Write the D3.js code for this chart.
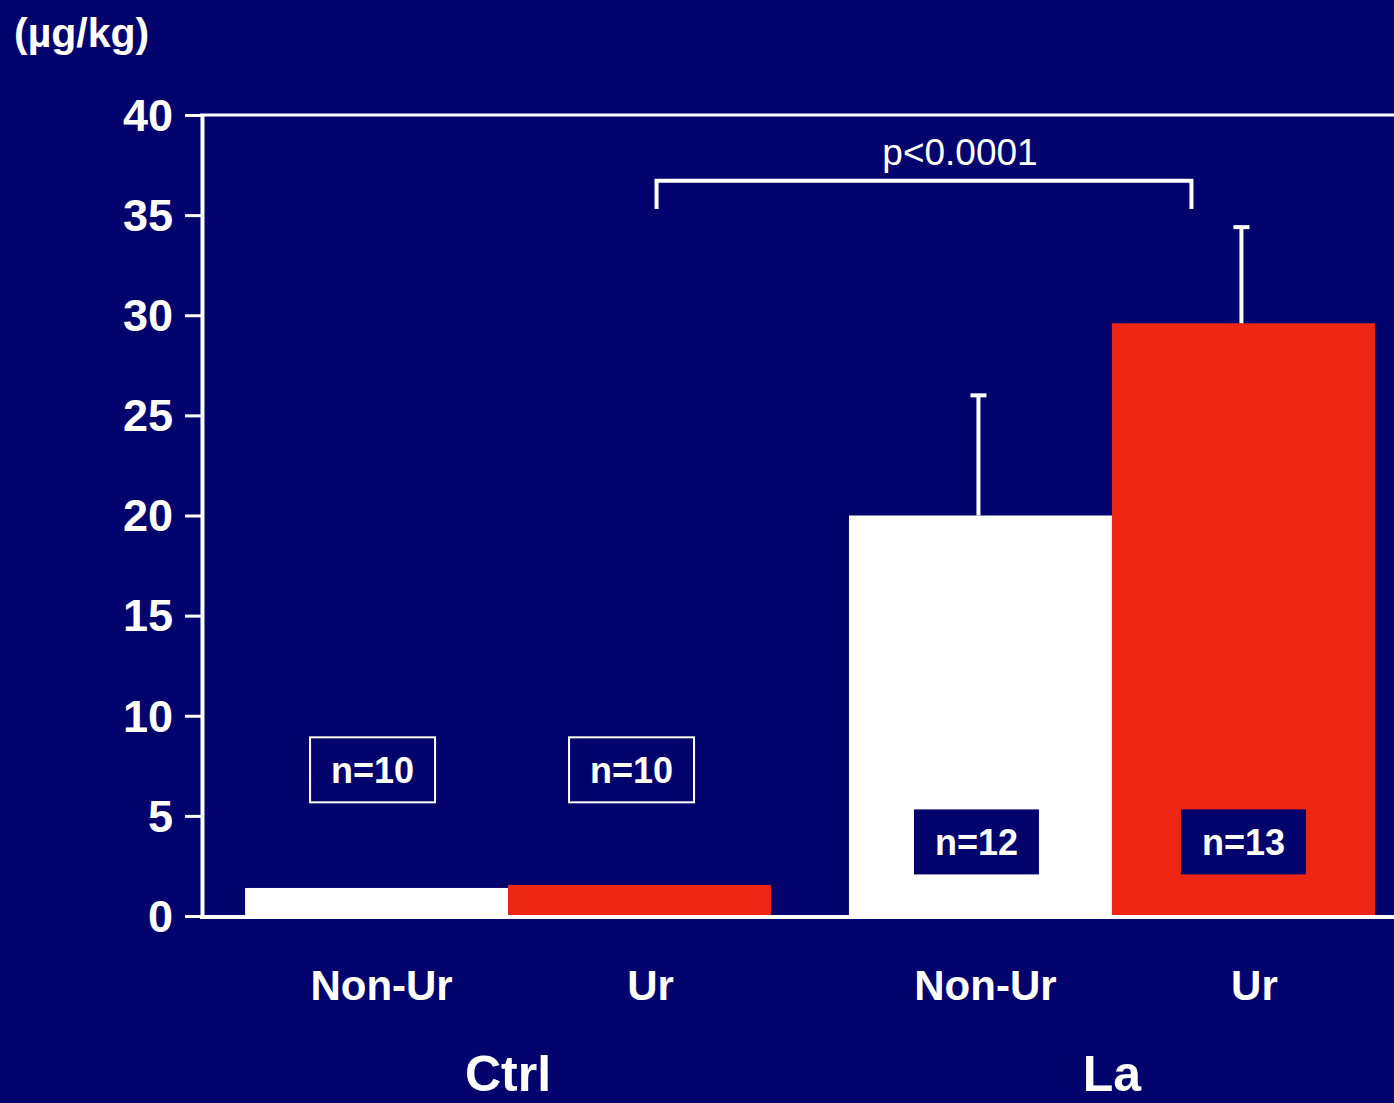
<!DOCTYPE html>
<html>
<head>
<meta charset="utf-8">
<script src="https://cdn.jsdelivr.net/npm/d3@7"></script>
<style>
  html, body { margin: 0; padding: 0; background: #03036e; }
  svg { display: block; }
  text { font-family: "Liberation Sans", Arial, Helvetica, sans-serif; fill: #ffffff; }
</style>
</head>
<body>
<svg id="chart" width="1394" height="1103"></svg>
<script>
// ---- data ----
const groups = ["Ctrl", "La"];
const subgroups = ["Non-Ur", "Ur"];
const meanValues = [1.4, 1.55, 20.0, 29.6];       // Ctrl Non-Ur, Ctrl Ur, La Non-Ur, La Ur
const errorTops = [null, null, 26.0, 34.4];       // mean + SD (only shown for La)
const nLabels = ["n=10", "n=10", "n=12", "n=13"];
const yTicks = [0, 5, 10, 15, 20, 25, 30, 35, 40];
const pLabel = "p<0.0001";
const unitLabel = "(µg/kg)";

const rows = [];
groups.forEach((g, gi) => subgroups.forEach((s, si) => {
  const i = gi * subgroups.length + si;
  rows.push({ i, group: g, sub: s, value: meanValues[i], err: errorTops[i], n: nLabels[i] });
}));

const W = 1394, H = 1103;
const svg = d3.select("#chart");
const navy = "#03036e", red = "#ef2613", white = "#ffffff";

const axisX = 202;
const y = d3.scaleLinear().domain([0, 40]).range([916, 115]);
const x0 = d3.scaleBand().domain(groups).range([axisX, 1418]).paddingInner(0.129).paddingOuter(0.0713);
const x1 = d3.scaleBand().domain(subgroups).range([0, x0.bandwidth()]).padding(0);
const color = d3.scaleOrdinal().domain(subgroups).range([white, red]);
const cx = d => x0(d.group) + x1(d.sub) + x1.bandwidth() / 2;

// bars
svg.append("g").selectAll("rect").data(rows).join("rect")
  .attr("x", d => x0(d.group) + x1(d.sub))
  .attr("y", d => y(d.value))
  .attr("width", x1.bandwidth())
  .attr("height", d => y(0) - y(d.value))
  .attr("fill", d => color(d.sub));

// error bars (upper only)
const eb = svg.append("g").selectAll("g").data(rows.filter(d => d.err != null)).join("g");
eb.append("line")
  .attr("x1", d => cx(d) - 2).attr("x2", d => cx(d) - 2)
  .attr("y1", d => y(d.value)).attr("y2", d => y(d.err))
  .attr("stroke", white).attr("stroke-width", 4);
eb.append("line")
  .attr("x1", d => cx(d) - 10).attr("x2", d => cx(d) + 6)
  .attr("y1", d => y(d.err)).attr("y2", d => y(d.err))
  .attr("stroke", white).attr("stroke-width", 4);

// n labels
const boxW = 125, boxH = 65;
const nudge = [-4, -8, -4, 0];
const nG = svg.append("g").selectAll("g").data(rows).join("g")
  .attr("transform", d => `translate(${cx(d) + nudge[d.i]},${d.group === "Ctrl" ? y(7.3) : y(3.7)})`);
nG.append("rect")
  .attr("x", -boxW / 2).attr("y", -boxH / 2).attr("width", boxW).attr("height", boxH)
  .attr("fill", d => d.group === "Ctrl" ? "none" : navy)
  .attr("stroke", d => d.group === "Ctrl" ? white : "none")
  .attr("stroke-width", 2);
nG.append("text")
  .attr("text-anchor", "middle").attr("dy", "0.36em")
  .attr("font-size", 36).attr("font-weight", "bold")
  .text(d => d.n);

// axes
const yAxis = d3.axisLeft(y).tickValues(yTicks).tickSize(17).tickPadding(12).tickSizeOuter(0);
const ga = svg.append("g").attr("transform", `translate(${axisX},0)`).call(yAxis);
ga.select(".domain").attr("stroke", white).attr("stroke-width", 4);
ga.selectAll(".tick line").attr("stroke", white).attr("stroke-width", 3);
ga.selectAll(".tick text").attr("fill", white).attr("font-size", 45).attr("font-weight", "bold")
  .attr("font-family", "Liberation Sans, Arial, sans-serif").attr("dy", "0.34em");

// frame top and baseline
svg.append("line").attr("x1", axisX - 2).attr("x2", W).attr("y1", y(40)).attr("y2", y(40))
  .attr("stroke", white).attr("stroke-width", 3);
svg.append("line").attr("x1", axisX - 2).attr("x2", W).attr("y1", y(0) + 1).attr("y2", y(0) + 1)
  .attr("stroke", white).attr("stroke-width", 4);

// subgroup labels
const subShift = { "Non-Ur": 5, "Ur": 11 };
svg.append("g").selectAll("text").data(rows).join("text")
  .attr("x", d => cx(d) + subShift[d.sub]).attr("y", 1000)
  .attr("text-anchor", "middle").attr("font-size", 42).attr("font-weight", "bold")
  .text(d => d.sub);

// group labels
svg.append("g").selectAll("text").data(groups).join("text")
  .attr("x", g => x0(g) + x0.bandwidth() / 2).attr("y", 1091)
  .attr("text-anchor", "middle").attr("font-size", 50).attr("font-weight", "bold")
  .text(g => g);

// significance bracket
const left = rows[1], right = rows[3];
const bx1 = cx(left) + 17, bx2 = cx(right) - 52;
svg.append("path")
  .attr("d", `M${bx1},${y(35.3)}V${y(36.72)}H${bx2}V${y(35.3)}`)
  .attr("fill", "none").attr("stroke", white).attr("stroke-width", 4);
svg.append("text")
  .attr("x", (bx1 + bx2) / 2 + 36).attr("y", y(37.5))
  .attr("text-anchor", "middle").attr("font-size", 37)
  .text(pLabel);

// unit label
svg.append("text").attr("x", 14).attr("y", 47)
  .attr("font-size", 41).attr("font-weight", "bold")
  .text(unitLabel);
</script>
</body>
</html>
